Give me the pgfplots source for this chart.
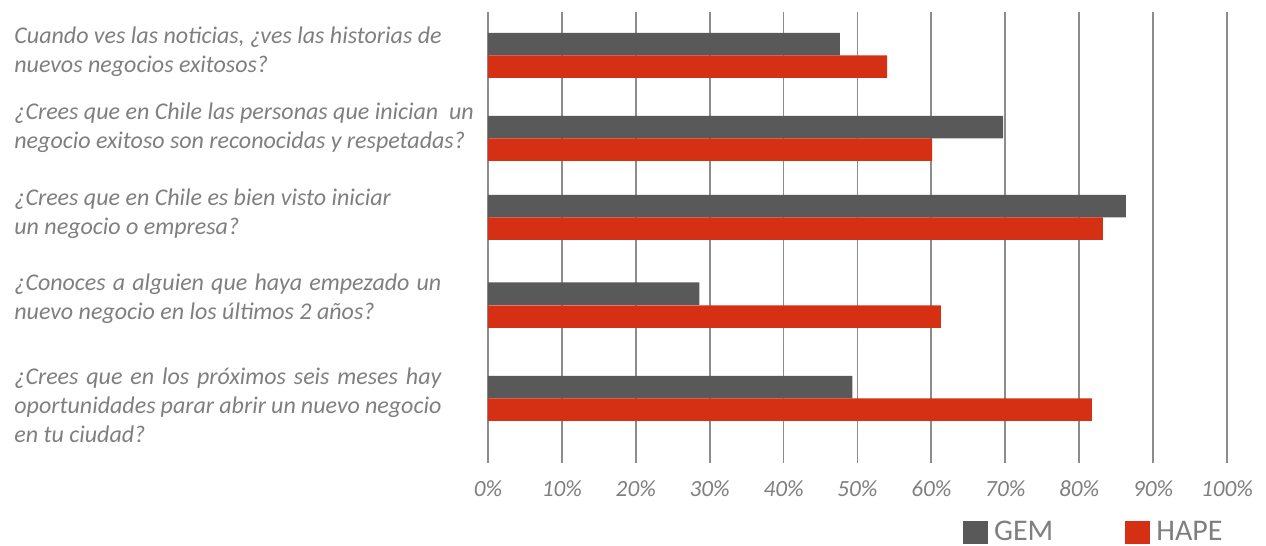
\documentclass[border=0pt]{standalone}
\usepackage{pgfplots}
\pgfplotsset{compat=1.18}
\usepackage{fontspec}
\setmainfont{Carlito}
\definecolor{gem}{HTML}{595959}
\definecolor{hape}{HTML}{D52F14}
\definecolor{txt}{HTML}{7F7F7F}
\definecolor{gridc}{HTML}{8C8C8C}
\begin{document}
\begin{tikzpicture}[x=1pt,y=1pt]
% page = 1266x546 px, 1 px = 0.5pt; axis box lower left at (0,0)
\useasboundingbox (-244,-41.5) rectangle (389,231.5);
\begin{axis}[
  at={(0,0)}, anchor=south west,
  scale only axis, width=369.5pt, height=225.5pt,
  xmin=0, xmax=100, ymin=12, ymax=463, y dir=reverse,
  axis line style={draw=none},
  xmajorgrids, grid style={gridc, line width=0.9pt},
  major tick length=0pt,
  xtick={0,10,...,100},
  xticklabels={0\%,10\%,20\%,30\%,40\%,50\%,60\%,70\%,80\%,90\%,100\%},
  xticklabel style={font=\fontsize{11.6}{13}\selectfont\itshape, text=txt, yshift=-5.5pt},
  ytick={52,128,214,299,405},
  yticklabels={
    {Cuando ves las noticias, ¿ves las historias de\\nuevos negocios exitosos?},
    {¿Crees que en Chile las personas que inician~ un\\negocio exitoso son reconocidas y respetadas?},
    {¿Crees que en Chile es bien visto iniciar\\un negocio o empresa?},
    {\makebox[213.5pt][s]{¿Conoces a alguien que haya empezado un}\\nuevo negocio en los últimos 2 años?},
    {\makebox[213.5pt][s]{¿Crees que en los próximos seis meses hay}\\\makebox[213.5pt][s]{oportunidades parar abrir un nuevo negocio}\\en tu ciudad?}},
  yticklabel style={anchor=west, align=left, inner sep=0pt, xshift=-237pt,
    font=\fontsize{12}{14.5}\selectfont\itshape, text=txt},
  legend columns=2,
  legend style={at={(0.643,-0.1286)}, anchor=north west, draw=none, fill=none,
    inner sep=0pt, outer sep=0pt, font=\fontsize{15}{17}\selectfont, text=txt,
    nodes={inner sep=0pt},
    /tikz/every odd column/.append style={column sep=3pt},
    /tikz/every even column/.append style={column sep=36pt}},
  legend image code/.code={\fill[#1] (0pt,-5.75pt) rectangle (12.5pt,5.75pt);},
]
\addplot[xbar, bar width=22.5, bar shift=0pt, fill=gem, draw=none]
  coordinates {(47.6,44) (69.7,127) (86.3,206) (28.6,293.5) (49.3,387)};
\addlegendentry{GEM}
\addplot[xbar, bar width=22.5, bar shift=0pt, fill=hape, draw=none]
  coordinates {(54.0,66.5) (60.1,149.5) (83.2,228.5) (61.3,316.5) (81.7,409.5)};
\addlegendentry{HAPE}
\end{axis}
\end{tikzpicture}
\end{document}
